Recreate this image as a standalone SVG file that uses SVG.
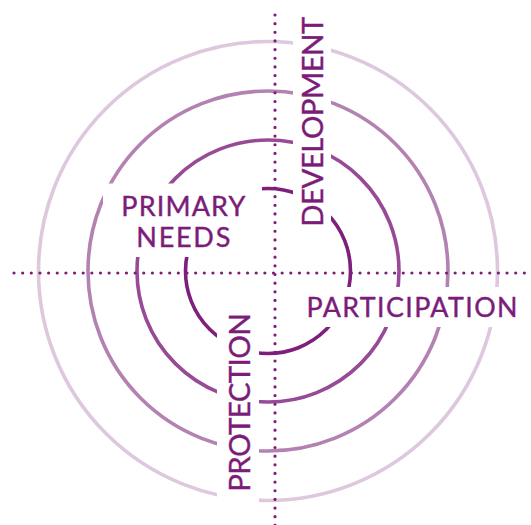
<svg xmlns="http://www.w3.org/2000/svg" width="531" height="525" viewBox="0 0 531 525">
  <style>
    .ring { fill: none; stroke-width: 3.6; }
    .r1 { stroke: #7e1f7b; }
    .r2 { stroke: #974a95; }
    .r3 { stroke: #b482b2; }
    .r4 { stroke: #ddc8de; }
    .axis { fill: none; stroke: #7b1d79; stroke-width: 3.2; stroke-linecap: round; stroke-dasharray: 0 8.65; }
    .label { font-family: Lato, "Open Sans", "Liberation Sans", sans-serif; fill: #7b1c79; stroke: #7b1c79; stroke-width: 0.4; font-weight: 400; }
  </style>
  <defs>
    <!-- openings in the rings where the labels sit -->
    <mask id="ring-cuts" maskUnits="userSpaceOnUse" x="0" y="0" width="531" height="525">
      <rect x="0" y="0" width="531" height="525" fill="#fff"/>
      <rect x="293" y="0" width="38" height="235" fill="#000"/>
      <rect x="298" y="287" width="233" height="40" fill="#000"/>
      <rect x="217" y="303" width="42" height="222" fill="#000"/>
      <rect x="103" y="183.5" width="159" height="73.5" fill="#000"/>
    </mask>
  </defs>

  <rect width="531" height="525" fill="#fff"/>

  <g id="rings" mask="url(#ring-cuts)">
    <circle class="ring r4" cx="268" cy="271" r="229.5"/>
    <circle class="ring r3" cx="268" cy="271" r="180"/>
    <circle class="ring r2" cx="268" cy="271" r="131"/>
    <circle class="ring r1" cx="268" cy="271" r="82.5"/>
  </g>

  <g id="connectors">
    <path class="axis" d="M14 273 H526"/>
    <path class="axis" d="M275 15 V526"/>
  </g>

  <g id="primary-needs">
    <text class="label" x="183.3" y="216" font-size="27" text-anchor="middle" textLength="124">PRIMARY</text>
    <text class="label" x="183.3" y="247.3" font-size="27" text-anchor="middle" textLength="94">NEEDS</text>
  </g>
  <g id="development">
    <text class="label" transform="translate(322.7 226.7) rotate(-90)" x="0" y="0" font-size="29.3" textLength="210">DEVELOPMENT</text>
  </g>
  <g id="participation">
    <text class="label" x="306.5" y="316.8" font-size="26.8" textLength="211">PARTICIPATION</text>
  </g>
  <g id="protection">
    <text class="label" transform="translate(250 491.7) rotate(-90)" x="0" y="0" font-size="29.6" textLength="178.5">PROTECTION</text>
  </g>
</svg>
